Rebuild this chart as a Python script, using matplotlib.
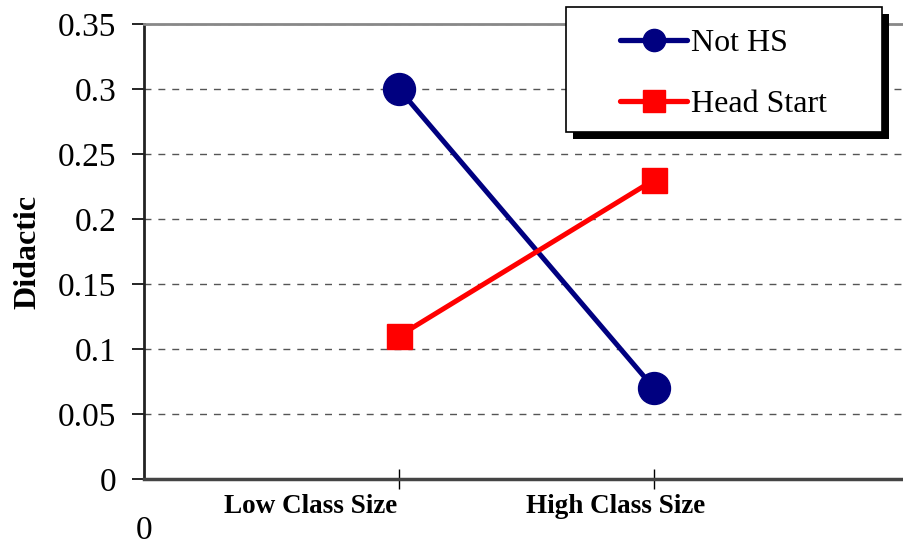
import matplotlib.pyplot as plt
from matplotlib.patches import Rectangle

# === DATA ===
categories = ["Low Class Size", "High Class Size"]
x_pos = [1, 2]
not_hs = [0.30, 0.07]
head_start = [0.11, 0.23]
y_ticks = [0, 0.05, 0.1, 0.15, 0.2, 0.25, 0.3, 0.35]
y_labels = ["0", "0.05", "0.1", "0.15", "0.2", "0.25", "0.3", "0.35"]

plt.rcParams['font.family'] = ['Liberation Serif', 'DejaVu Serif']

fig = plt.figure(figsize=(9.04, 5.48), dpi=100)
ax = fig.add_axes([0.1593, 0.1259, 0.846, 0.8303])

# === Lines ===
ax.plot(x_pos, not_hs, color='#000080', lw=3.6, marker='o', markersize=23,
        label='Not HS', zorder=3, clip_on=False)
ax.plot(x_pos, head_start, color='#ff0000', lw=3.6, marker='s', markersize=18,
        label='Head Start', zorder=3, clip_on=False)

# === Axes ===
ax.set_xlim(0, 3)
ax.set_ylim(0, 0.35)
ax.set_yticks(y_ticks)
ax.set_yticklabels(y_labels, fontsize=24)
ax.set_xticks(x_pos)
ax.set_xticklabels(["", ""])
ax.tick_params(axis='y', direction='out', length=9, width=1.2, pad=11)
ax.tick_params(axis='x', direction='inout', length=14, width=1.0)

ax.grid(axis='y', color='#555555', linestyle=(0, (5, 5)), lw=1.0)
ax.set_axisbelow(True)

ax.spines['right'].set_visible(False)
ax.spines['top'].set_color('#888888')
ax.spines['top'].set_linewidth(2)
ax.spines['left'].set_linewidth(2)
ax.spines['left'].set_color('#222222')
ax.spines['bottom'].set_linewidth(2.5)
ax.spines['bottom'].set_color('#444444')

ax.set_ylabel("Didactic", fontsize=23, fontweight='bold', labelpad=11)

# category labels (placed like the original, offset from the ticks)
label_x = [0.655, 1.851]
for lx, name in zip(label_x, categories):
    ax.annotate(name, xy=(lx, 0), xytext=(0, -20), textcoords='offset points',
                ha='center', va='center', fontsize=19.5, fontweight='bold',
                annotation_clip=False)
ax.annotate("0", xy=(0, 0), xytext=(0, -37), textcoords='offset points',
            ha='center', va='center', fontsize=24, annotation_clip=False)

# === Legend (frame + shadow drawn by hand, box ~ x 566-882, y 7-132 px) ===
W, H = 904, 548
box_x0, box_x1, box_top, box_bot = 566, 882, 7, 132
frame = Rectangle((box_x0, H - box_bot), box_x1 - box_x0, box_bot - box_top,
                  transform=None, facecolor='white', edgecolor='black', lw=1.2,
                  zorder=5.9, clip_on=False)
shadow = Rectangle((box_x0 + 7, H - box_bot - 7), box_x1 - box_x0, box_bot - box_top,
                   transform=None, facecolor='black', edgecolor='none',
                   zorder=5.8, clip_on=False)
ax.add_artist(shadow)
ax.add_artist(frame)

leg = ax.legend(loc='upper left', bbox_to_anchor=(620 / W, (H - 29) / H),
                bbox_transform=fig.transFigure, borderaxespad=0, borderpad=0,
                fontsize=23, frameon=False, numpoints=1,
                handlelength=2.1, handletextpad=0.12, labelspacing=0.98)
for h in leg.legend_handles:
    h.set_markersize(16)
    h.set_linewidth(3.8)
    h.set_solid_capstyle('round')
leg.set_zorder(6)

fig.savefig("out.png", dpi=100)
